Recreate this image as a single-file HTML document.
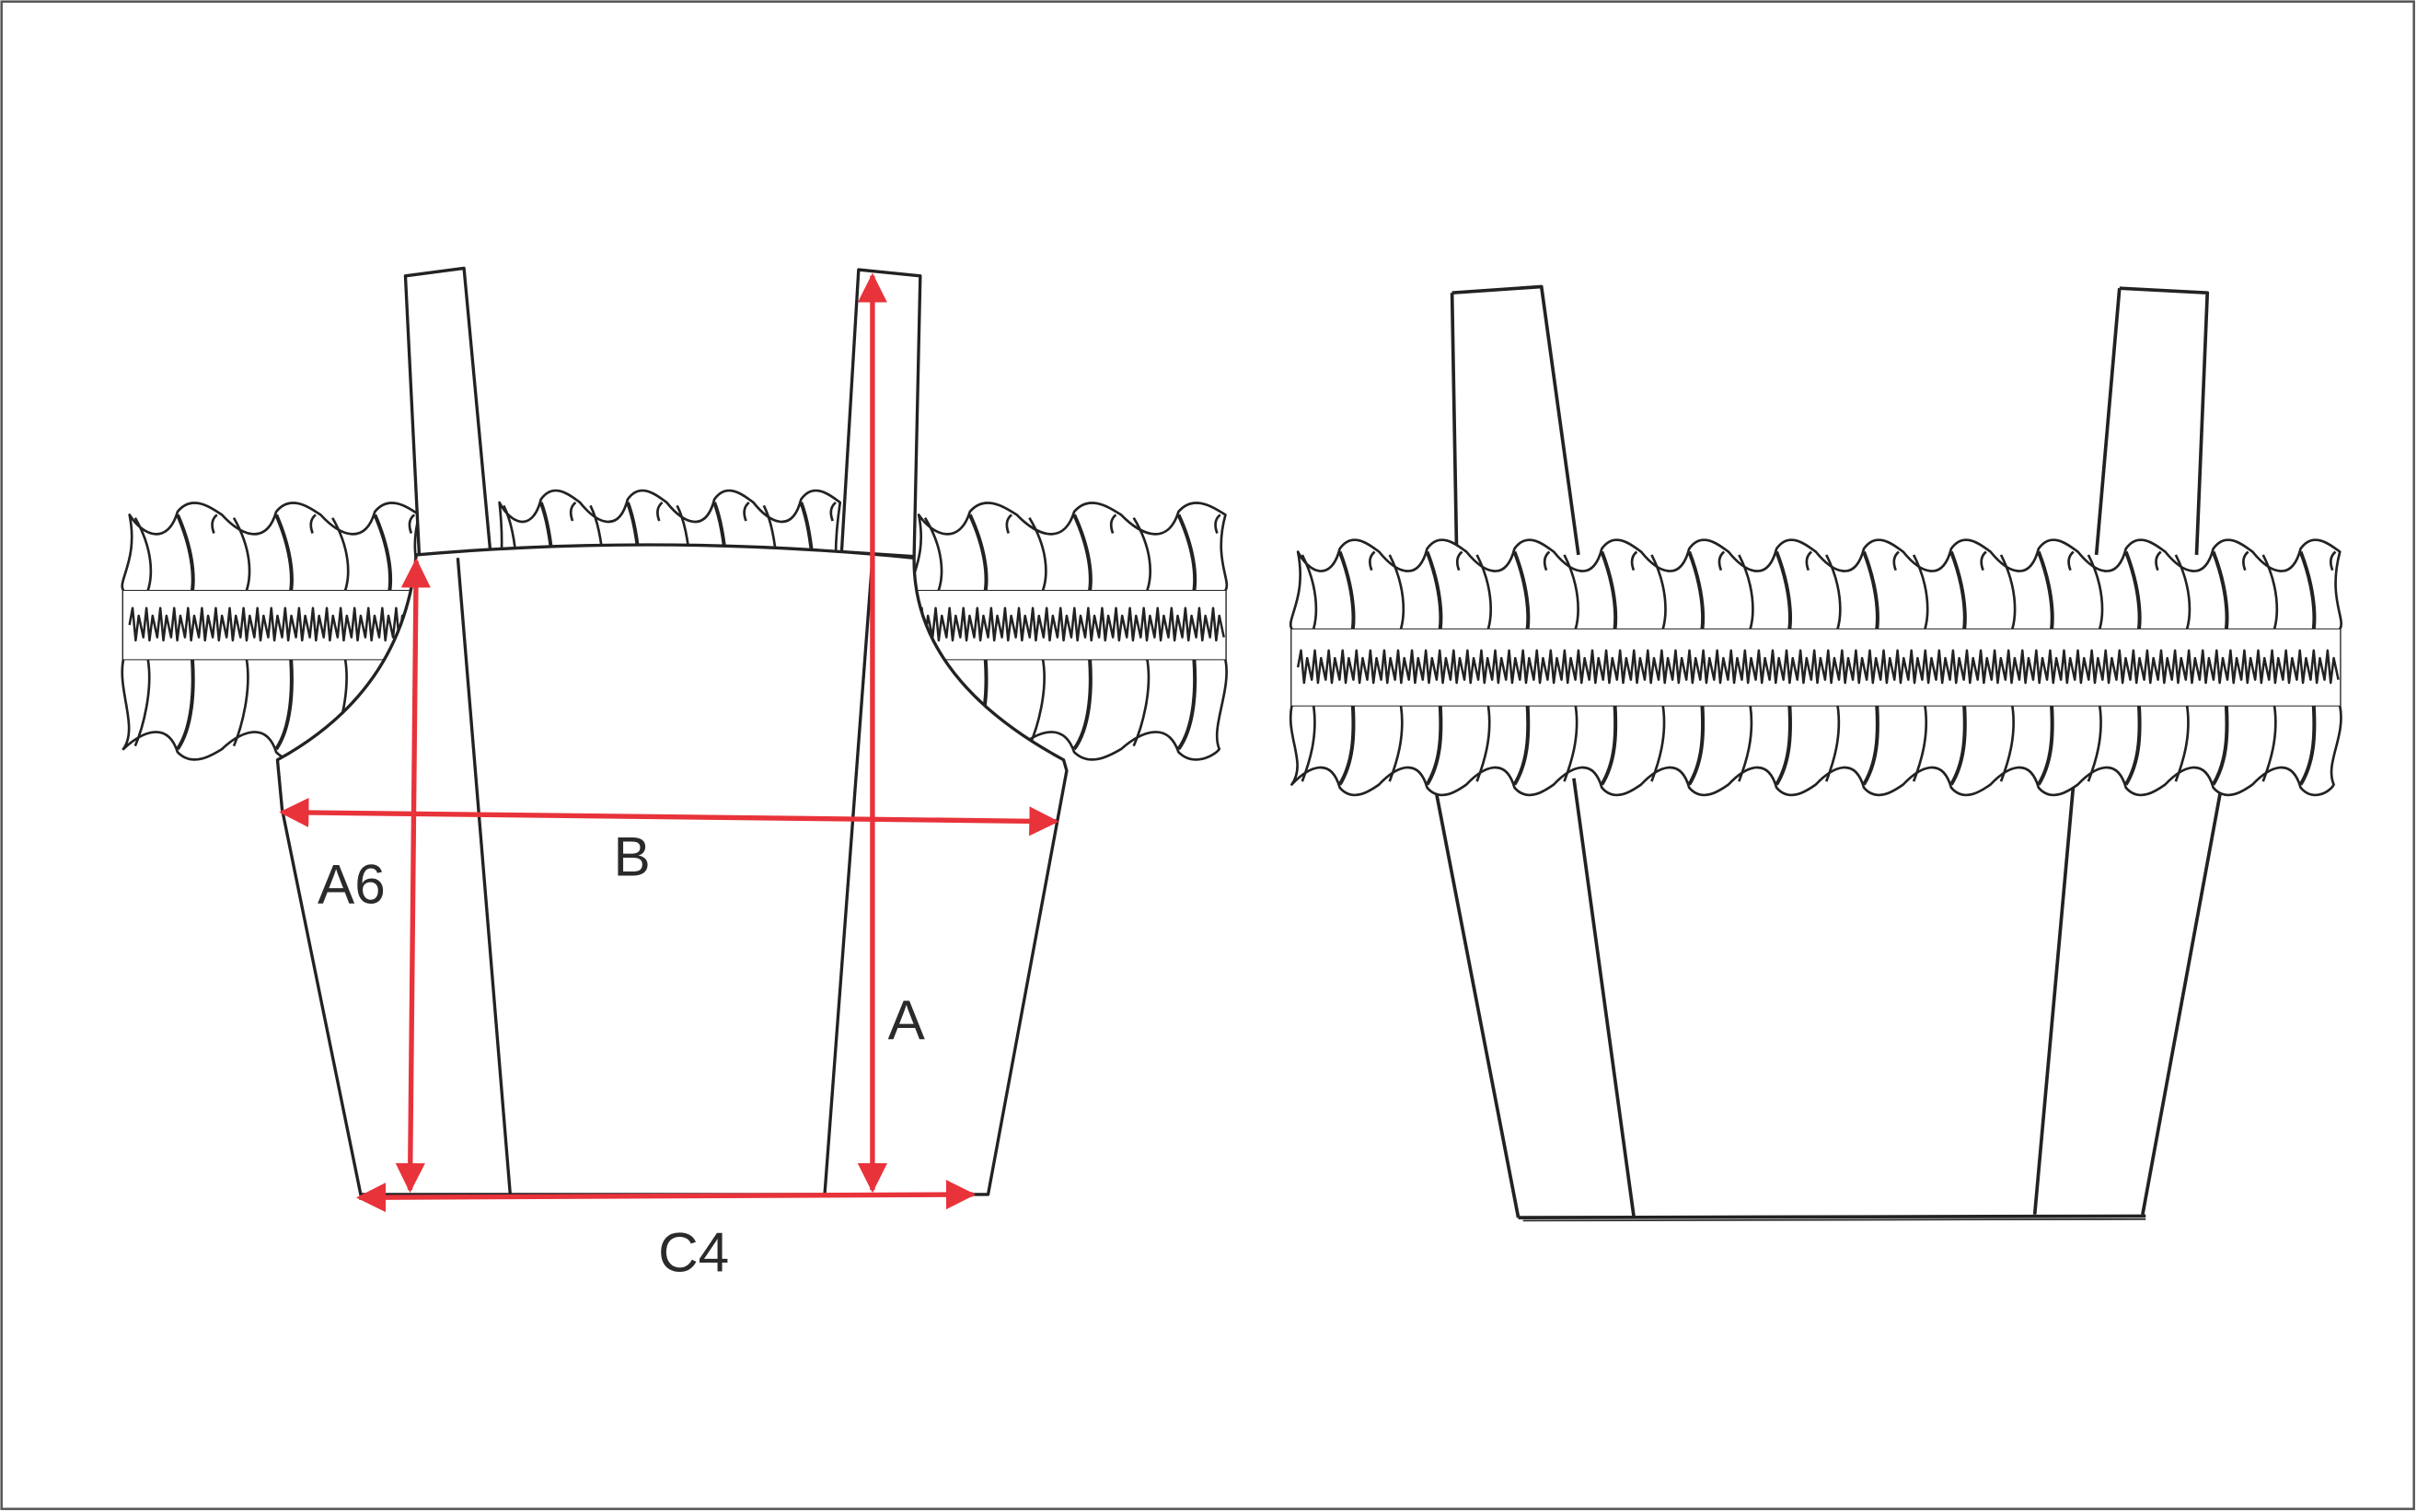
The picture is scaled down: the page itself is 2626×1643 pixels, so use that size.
<!DOCTYPE html>
<html><head><meta charset="utf-8"><style>
html,body{margin:0;padding:0;background:#fff;}
svg{display:block;}
text{font-family:"Liberation Sans",sans-serif;fill:#2a2a2a;}
</style></head><body>
<svg id="s" width="2626" height="1643" viewBox="0 0 1568 981" preserveAspectRatio="none" xmlns="http://www.w3.org/2000/svg">
<rect x="1" y="1" width="1565" height="978" fill="#fff" stroke="#555" stroke-width="1.5"/>
<g id="lr" fill="#fff" stroke="#222" stroke-width="1.6" stroke-linejoin="round"></g>
<g fill="#fff" stroke="#222" stroke-width="2" stroke-linejoin="round">
  <path d="M263,179 L301,174 L318,357 L272,361 Z"/>
  <path d="M557,175 L597,179 L593,361 L546,358 Z"/>
  <path d="M270,360 Q430,346 593,362 Q592,440 690,493 L692,500 L641,775 L234,775 L183,525 L180,493 Q262,448 270,360 Z"/>
  <path d="M297,362 L331,775" fill="none"/>
  <path d="M566,362 L535,775" fill="none"/>
</g>
<g fill="none" stroke="#222" stroke-width="2.2" stroke-linejoin="round">
  <path d="M942,190 L1000,186 L1024,360"/>
  <path d="M942,190 L945,360"/>
  <path d="M1375,187 L1432,190 L1425,360"/>
  <path d="M1375,187 L1360,360"/>
  <path d="M930,505 L985,790"/>
  <path d="M1021,505 L1060,790"/>
  <path d="M1345,510 L1320,788"/>
  <path d="M1443,500 L1390,788"/>
  <path d="M985,790 L1392,789"/>
  <path d="M988,792 L1392,791" stroke-width="1"/>
</g>
<g id="rr" fill="#fff" stroke="#222" stroke-width="1.6" stroke-linejoin="round"></g>
<defs>
<marker id="ah" viewBox="0 0 10 10" refX="9" refY="5" markerWidth="6" markerHeight="6" orient="auto-start-reverse" markerUnits="strokeWidth"><path d="M0,0 L10,5 L0,10 Z" fill="#e8333a"/></marker>
</defs>
<g stroke="#e8333a" stroke-width="3.2" fill="none">
  <path d="M270,364 L266,772" marker-start="url(#ah)" marker-end="url(#ah)"/>
  <path d="M183,527 L685,533" marker-start="url(#ah)" marker-end="url(#ah)"/>
  <path d="M566,179 L566,772" marker-start="url(#ah)" marker-end="url(#ah)"/>
  <path d="M233,777 L631,775" marker-start="url(#ah)" marker-end="url(#ah)"/>
</g>
<text x="206" y="586" font-size="36">A6</text>
<text x="398" y="568" font-size="36">B</text>
<text x="576" y="674" font-size="36">A</text>
<text x="427" y="825" font-size="36">C4</text>
</svg>
<script>
function ruffle(g,x0,x1,yt,yb,bt,bb,n,drawBand){
  var w=(x1-x0)/n;
  var ns='http://www.w3.org/2000/svg';
  function P(d,f,sw){var p=document.createElementNS(ns,'path');p.setAttribute('d',d);if(f)p.setAttribute('fill',f);if(sw)p.setAttribute('stroke-width',sw);g.appendChild(p);}
  var d='M'+(x0+4)+','+(yt+8);
  for(var i=0;i<n;i++){var x=x0+i*w;d+=' C'+(x+w*0.2)+','+(yt+22)+' '+(x+w*0.45)+','+(yt+28)+' '+(x+w*0.55)+','+(yt+6)+' C'+(x+w*0.7)+','+(yt-6)+' '+(x+w*0.9)+','+(yt+4)+' '+(x+w)+','+(yt+8);}
  d+=' C'+(x1-8)+','+(bt-20)+' '+(x1+4)+','+(bt-6)+' '+x1+','+bt+' L'+x1+','+bb+' C'+(x1+4)+','+(bb+20)+' '+(x1-10)+','+(yb-20)+' '+(x1-4)+','+(yb-6);
  for(var i=n-1;i>=0;i--){var x=x0+i*w;d+=' C'+(x+w*0.9)+','+(yb-2)+' '+(x+w*0.7)+','+(yb+6)+' '+(x+w*0.55)+','+(yb-4)+' C'+(x+w*0.45)+','+(yb-24)+' '+(x+w*0.2)+','+(yb-18)+' '+x+','+(yb-6);}
  d+=' C'+(x0+10)+','+(yb-20)+' '+(x0-4)+','+(bb+20)+' '+x0+','+bb+' L'+x0+','+bt+' C'+(x0-4)+','+(bt-6)+' '+(x0+10)+','+(bt-20)+' '+(x0+4)+','+(yt+8)+'Z';
  P(d,'#fff');
  for(var i=0;i<n;i++){var x=x0+i*w;
    P('M'+(x+w*0.12)+','+(yt+10)+' C'+(x+w*0.3)+','+(yt+30)+' '+(x+w*0.3)+','+(bt-10)+' '+(x+w*0.25)+','+bt,'none');
    P('M'+(x+w*0.55)+','+(yt+8)+' C'+(x+w*0.7)+','+(yt+30)+' '+(x+w*0.72)+','+(bt-10)+' '+(x+w*0.7)+','+bt,'none',2.4);
    P('M'+(x+w*0.25)+','+bb+' C'+(x+w*0.3)+','+(bb+20)+' '+(x+w*0.2)+','+(yb-20)+' '+(x+w*0.12)+','+(yb-8),'none');
    P('M'+(x+w*0.7)+','+bb+' C'+(x+w*0.72)+','+(bb+20)+' '+(x+w*0.7)+','+(yb-20)+' '+(x+w*0.55)+','+(yb-6),'none',2.4);
    P('M'+(x+w*0.95)+','+(yt+8)+' q-5,4 -2,12','none');
  }
  if(drawBand){
    P('M'+x0+','+bt+' L'+x1+','+bt+' L'+x1+','+bb+' L'+x0+','+bb+' Z','#fff',0.01);
    P('M'+x0+','+bt+' L'+x1+','+bt+' M'+x0+','+bb+' L'+x1+','+bb,'none',0.6);
    var m=(bt+bb)/2;var z='M'+(x0+4)+','+m;
    for(var x=x0+4;x<x1-8;x+=9){z+=' L'+(x+2)+','+(m-11)+' L'+(x+4)+','+(m+10)+' L'+(x+6)+','+(m-6)+' L'+(x+9)+','+(m+8);}
    P(z,'none',1.5);
  }
}
var lr=document.getElementById('lr'),rr=document.getElementById('rr');
ruffle(lr,80,272,326,492,383,428,3,true);
ruffle(lr,592,795,326,492,383,428,3,true);
ruffle(lr,320,545,318,400,400,400,4,false);
ruffle(rr,838,1518,350,515,408,458,12,true);
</script>
</body></html>
